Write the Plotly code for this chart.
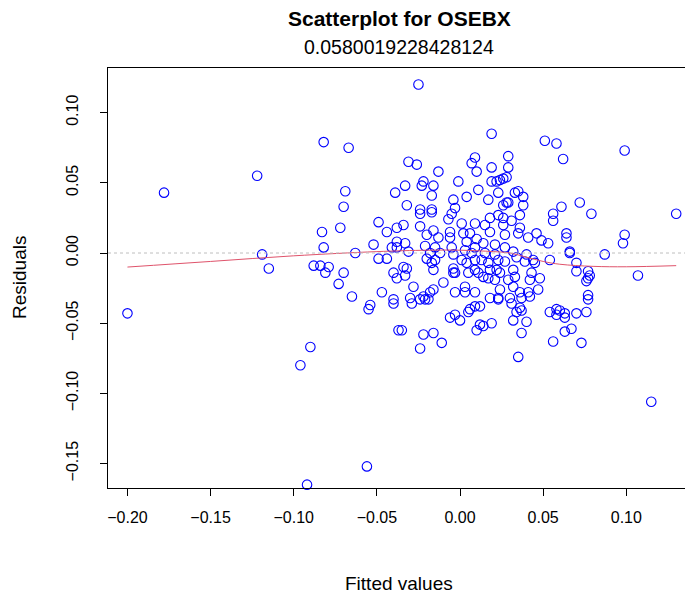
import plotly.graph_objects as go

# fitted values (x) and residuals (y)
fitted = [
    -0.200, -0.178, -0.122, -0.119, -0.115, -0.096, -0.092, -0.090, -0.088, -0.082,
    -0.083, -0.082, -0.084, -0.079, -0.081, -0.072, -0.070, -0.069, -0.067, -0.070,
    -0.073, -0.065, -0.063, -0.039, -0.049, -0.044, -0.038, -0.052, -0.041, -0.038,
    -0.038, -0.049, -0.044, -0.040, -0.038, -0.047, -0.040, -0.054, -0.055, -0.040,
    -0.037, -0.056,
    -0.025, -0.031, -0.026, -0.013, 0.007, 0.009, 0.010, -0.033, -0.022, -0.023,
    -0.016, -0.001, -0.017, 0.011, -0.032, -0.004, 0.004, -0.024, -0.017, -0.003,
    0.019, 0.051, 0.058, 0.029, 0.019, 0.029, 0.019, 0.022, 0.024, 0.026,
    0.028, 0.023, 0.033, 0.035, 0.038, 0.017, 0.028, 0.026, 0.029, 0.038,
    0.062, 0.099, 0.061, 0.072,
    -0.024, -0.017, -0.005, -0.007, 0.001, 0.009, -0.034, -0.024, -0.016, -0.006,
    0.002, -0.020, -0.013, -0.006, 0.006, 0.010, 0.004, -0.033, -0.021, -0.015,
    -0.005, 0.009, 0.003, -0.018, -0.012, -0.004, 0.007, -0.031, -0.020, -0.015,
    0.001, 0.009, -0.017, 0.004, -0.034, -0.032, -0.016, -0.004, -0.003, 0.009,
    0.011, 0.005, -0.033, -0.004, -0.028, -0.010, 0.003, -0.016, -0.018, -0.022,
    -0.003, 0.003, 0.009, -0.030, -0.024,
    -0.029, -0.021, -0.019, -0.006, -0.003, 0.000, 0.005, 0.006, 0.009, -0.035,
    -0.022, -0.016, -0.011, -0.024, 0.010, 0.012,
    0.018, 0.023, 0.026, 0.031, 0.036, 0.056, 0.056, 0.015, 0.018, 0.026,
    0.027, 0.035, 0.036, 0.041, 0.046, 0.049, 0.053, 0.014, 0.021, 0.027,
    0.015, 0.021, 0.032, 0.034, 0.040, 0.039, 0.044, 0.045, 0.054, 0.013,
    0.017, 0.023, 0.027, 0.018, 0.022, 0.024, 0.032, 0.033, 0.043, 0.014,
    0.017, 0.021, 0.029, 0.042, 0.048, 0.024, 0.032, 0.036, 0.041, 0.047,
    0.018, 0.023, 0.030, 0.037, 0.042,
    0.012, 0.023, 0.031, 0.036, 0.034, 0.037, 0.032, 0.040, 0.019, 0.014,
    0.037, 0.056, 0.035, 0.054, 0.058, 0.058,
    0.079, 0.064, 0.064, 0.099, 0.098, 0.066, 0.066, 0.087, 0.070, 0.070,
    0.077, 0.078, 0.077, 0.076, 0.107, 0.077,
    0.060, 0.063, 0.063, 0.070, 0.076, 0.063, 0.067, 0.073, 0.077,
    0.130, 0.115,
]
residuals = [
    -0.043, 0.043, 0.055, -0.001, -0.011, -0.080, -0.165, -0.067, -0.009, 0.079,
    0.015, 0.004, -0.009, -0.010, -0.014, 0.018, 0.033, 0.044, 0.075, -0.014,
    -0.022, -0.031, 0.000, 0.043, 0.022, 0.015, 0.018, 0.006, 0.004, 0.008,
    0.004, -0.004, -0.004, -0.014, -0.018, -0.028, -0.033, -0.037, -0.040, -0.036,
    -0.055, -0.152,
    0.120, 0.065, 0.063, 0.058, 0.064, 0.068, 0.058, 0.048, 0.051, 0.048,
    0.048, 0.051, 0.041, 0.045, 0.034, 0.038, 0.040, 0.031, 0.031, 0.032,
    0.085, 0.080, 0.078, 0.069, 0.061, 0.061, 0.051, 0.051, 0.052, 0.053,
    0.054, 0.043, 0.043, 0.044, 0.040, 0.038, 0.036, 0.034, 0.036, 0.034,
    0.067, 0.073, 0.033, 0.036,
    0.028, 0.029, 0.028, 0.024, 0.021, 0.021, 0.020, 0.019, 0.016, 0.015,
    0.014, 0.013, 0.011, 0.011, 0.014, 0.010, 0.008, 0.007, 0.005, 0.004,
    0.004, 0.004, 0.002, 0.000, 0.000, -0.001, 0.000, 0.001, -0.004, -0.005,
    -0.005, -0.005, -0.007, -0.007, -0.010, -0.011, -0.012, -0.011, -0.014, -0.012,
    -0.014, -0.014, -0.016, -0.014, -0.024, -0.021, -0.024, -0.026, -0.028, -0.031,
    -0.028, -0.028, -0.028, -0.032, -0.033,
    -0.036, -0.033, -0.033, -0.046, -0.044, -0.048, -0.042, -0.040, -0.038, -0.055,
    -0.058, -0.057, -0.064, -0.068, -0.055, -0.051,
    0.025, 0.027, 0.025, 0.023, 0.027, 0.028, 0.023, 0.020, 0.015, 0.020,
    0.013, 0.014, 0.018, 0.011, 0.014, 0.009, 0.007, 0.007, 0.006, 0.004,
    0.000, -0.001, 0.001, -0.003, -0.001, -0.006, -0.005, -0.007, -0.005, -0.005,
    -0.007, -0.005, -0.006, -0.012, -0.012, -0.014, -0.012, -0.017, -0.014, -0.017,
    -0.018, -0.019, -0.019, -0.019, -0.018, -0.026, -0.024, -0.028, -0.028, -0.026,
    -0.032, -0.032, -0.032, -0.032, -0.031,
    -0.038, -0.033, -0.036, -0.039, -0.042, -0.041, -0.048, -0.049, -0.050, -0.052,
    -0.057, -0.063, -0.074, -0.042, -0.040, -0.044,
    0.028, 0.014, 0.011, 0.013, 0.007, 0.001, 0.000, -0.001, -0.007, -0.013,
    -0.013, -0.016, -0.018, -0.020, -0.016, -0.030,
    -0.041, -0.043, -0.046, -0.043, -0.042, -0.056, -0.054, -0.064, -0.033,
    0.028, -0.106,
]

# smoother (red line)
smooth_x = [-0.200, -0.150, -0.100, -0.050, -0.020, 0.000, 0.020, 0.030, 0.040, 0.050, 0.060, 0.080, 0.100, 0.130]
smooth_y = [-0.010, -0.006, -0.002, 0.001, 0.002, 0.002, 0.001, 0.000, -0.003, -0.006, -0.008, -0.0095, -0.0098, -0.009]

x_ticks = [-0.20, -0.15, -0.10, -0.05, 0.00, 0.05, 0.10]
x_tick_labels = ["\u22120.20", "\u22120.15", "\u22120.10", "\u22120.05", "0.00", "0.05", "0.10"]
y_ticks = [-0.15, -0.10, -0.05, 0.00, 0.05, 0.10]
y_tick_labels = ["\u22120.15", "\u22120.10", "\u22120.05", "0.00", "0.05", "0.10"]

title = "Scatterplot for OSEBX"
subtitle = "0.0580019228428124"

FONT = "Liberation Sans, Arial, sans-serif"

# the page body adds an 8px offset; size the figure so the plot box lands at
# page pixels x 108..690, y 68..488
W, H = 685, 596
ML, MR, MT, MB = 100, 3, 60, 116

fig = go.Figure()
fig.add_trace(go.Scatter(
    x=fitted, y=residuals, mode="markers",
    marker=dict(symbol="circle-open", size=9.5, color="#0000FF", line=dict(width=1.1)),
    showlegend=False, hoverinfo="x+y", cliponaxis=False,
))
fig.add_trace(go.Scatter(
    x=smooth_x, y=smooth_y, mode="lines",
    line=dict(color="#DF536B", width=1, shape="spline"),
    showlegend=False,
))

fig.add_hline(y=0, line=dict(color="#BEBEBE", width=1, dash="dot"))

fig.update_layout(
    template="none",
    width=W, height=H,
    margin=dict(l=ML, r=MR, t=MT, b=MB, autoexpand=False),
    paper_bgcolor="white", plot_bgcolor="white",
    font=dict(family=FONT, size=16, color="black"),
    xaxis=dict(
        range=[-0.2117, 0.1383], showgrid=False, zeroline=False, automargin=False,
        showline=True, mirror=True, linecolor="black", linewidth=1,
        ticks="outside", ticklen=7, tickcolor="black", tickwidth=1,
        tickvals=x_ticks, ticktext=x_tick_labels,
        tickfont=dict(size=16), ticklabelstandoff=8,
    ),
    yaxis=dict(
        range=[-0.1674, 0.1318], showgrid=False, zeroline=False, automargin=False,
        showline=True, mirror=True, linecolor="black", linewidth=1,
        ticks="outside", ticklen=7, tickcolor="black", tickwidth=1,
        tickvals=y_ticks, ticktext=y_tick_labels, tickangle=-90,
        tickfont=dict(size=16), ticklabelstandoff=16,
    ),
)

# helper: page-pixel position -> paper coordinates
plot_h = H - MT - MB
plot_w = W - ML - MR
def py(pix):
    return (488 - pix) / plot_h
def px(pix):
    return (pix - 108) / plot_w

fig.add_annotation(text="<b>" + title + "</b>", x=px(399), y=py(19), xref="paper", yref="paper",
                   showarrow=False, font=dict(size=21), xanchor="center", yanchor="middle")
fig.add_annotation(text=subtitle, x=px(399), y=py(47), xref="paper", yref="paper",
                   showarrow=False, font=dict(size=19.5), xanchor="center", yanchor="middle")
fig.add_annotation(text="Fitted values", x=px(399), y=py(583), xref="paper", yref="paper",
                   showarrow=False, font=dict(size=19), xanchor="center", yanchor="middle")
fig.add_annotation(text="Residuals", x=px(19), y=py(278), xref="paper", yref="paper",
                   showarrow=False, font=dict(size=19), textangle=-90,
                   xanchor="center", yanchor="middle")

fig.write_html("out.html")
